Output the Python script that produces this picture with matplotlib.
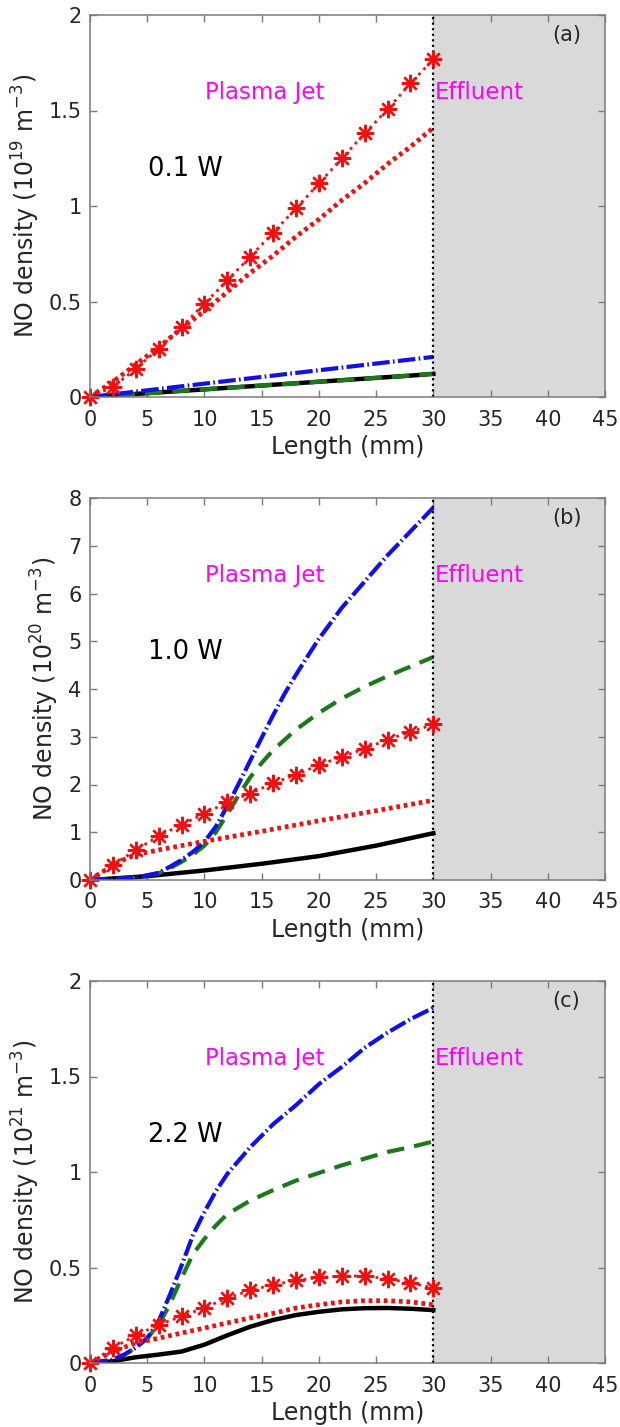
import numpy as np
import matplotlib
matplotlib.use("Agg")
import matplotlib.pyplot as plt

plt.rcParams['font.family'] = ['DejaVu Sans']
plt.rcParams['mathtext.default'] = 'regular'

# Axial positions (mm) of the marked series
x = [0, 2, 4, 6, 8, 10, 12, 14, 16, 18, 20, 22, 24, 26, 28, 30]

# ---- (a) 0.1 W, units of 1e19 m^-3
a_black = [0, 0.008, 0.016, 0.024, 0.032, 0.040, 0.048, 0.056, 0.064, 0.072, 0.080, 0.088, 0.096, 0.104, 0.112, 0.121]
a_green = [0, 0.008, 0.016, 0.024, 0.032, 0.040, 0.048, 0.056, 0.064, 0.072, 0.080, 0.088, 0.096, 0.104, 0.112, 0.122]
a_blue = [0, 0.014, 0.028, 0.042, 0.056, 0.070, 0.084, 0.098, 0.112, 0.126, 0.140, 0.154, 0.168, 0.182, 0.196, 0.210]
a_red = [0, 0.08, 0.17, 0.26, 0.36, 0.45, 0.55, 0.65, 0.74, 0.84, 0.93, 1.03, 1.12, 1.22, 1.31, 1.41]
a_star = [0, 0.052, 0.148, 0.253, 0.367, 0.489, 0.611, 0.734, 0.861, 0.987, 1.118, 1.249, 1.380, 1.506, 1.642, 1.768]

# ---- (b) 1.0 W, units of 1e20 m^-3
b_black_x = [0, 5, 10, 15, 20, 25, 30]
b_black = [0, 0.08, 0.20, 0.34, 0.50, 0.72, 0.98]
b_green_x = [0, 2, 4, 6, 7, 8, 9, 10, 11, 12, 13, 14, 15, 16, 18, 20, 22, 24, 26, 28, 30]
b_green = [0, 0.02, 0.05, 0.14, 0.25, 0.38, 0.53, 0.72, 1.00, 1.38, 1.78, 2.15, 2.45, 2.72, 3.15, 3.50, 3.80, 4.05, 4.27, 4.47, 4.67]
b_blue_x = [0, 2, 4, 6, 7, 8, 9, 10, 11, 12, 13, 14, 15, 16, 17, 18, 19, 20, 22, 24, 26, 28, 30]
b_blue = [0, 0.02, 0.05, 0.15, 0.28, 0.42, 0.59, 0.80, 1.12, 1.55, 2.02, 2.50, 2.98, 3.45, 3.90, 4.30, 4.68, 5.05, 5.70, 6.25, 6.80, 7.30, 7.80]
b_red_x = [0, 1, 2, 3, 4, 6, 8, 10, 15, 20, 25, 30]
b_red = [0, 0.16, 0.30, 0.43, 0.53, 0.63, 0.72, 0.81, 1.02, 1.24, 1.45, 1.67]
b_star = [0, 0.31, 0.63, 0.92, 1.16, 1.39, 1.63, 1.81, 2.03, 2.20, 2.41, 2.58, 2.75, 2.94, 3.10, 3.26]

# ---- (c) 2.2 W, units of 1e21 m^-3
c_black_x = [0, 2, 3, 4, 6, 8, 10, 12, 14, 16, 18, 20, 22, 24, 26, 28, 30]
c_black = [0, 0.009, 0.02, 0.03, 0.044, 0.06, 0.096, 0.145, 0.19, 0.225, 0.251, 0.268, 0.281, 0.287, 0.288, 0.284, 0.277]
c_green_x = [0, 2, 3, 4, 5, 6, 7, 8, 9, 10, 11, 12, 14, 16, 18, 20, 22, 24, 26, 28, 30]
c_green = [0, 0.017, 0.044, 0.08, 0.13, 0.20, 0.31, 0.445, 0.57, 0.65, 0.72, 0.78, 0.85, 0.905, 0.955, 0.995, 1.035, 1.07, 1.105, 1.13, 1.16]
c_blue_x = [0, 2, 3, 4, 5, 6, 7, 8, 9, 10, 11, 12, 14, 16, 18, 20, 22, 24, 26, 28, 30]
c_blue = [0, 0.017, 0.044, 0.08, 0.13, 0.22, 0.36, 0.51, 0.67, 0.79, 0.90, 0.99, 1.13, 1.25, 1.35, 1.46, 1.55, 1.65, 1.73, 1.80, 1.86]
c_red = [0, 0.06, 0.105, 0.13, 0.157, 0.183, 0.21, 0.236, 0.26, 0.288, 0.305, 0.32, 0.326, 0.326, 0.32, 0.305]
c_star = [0, 0.079, 0.145, 0.20, 0.244, 0.29, 0.34, 0.38, 0.41, 0.432, 0.448, 0.455, 0.456, 0.44, 0.42, 0.393]

panels = [
    dict(tag="(a)", power="0.1 W", exp=19, ymax=2.0,
         yticks=[0, 0.5, 1, 1.5, 2], ylabels=["0", "0.5", "1", "1.5", "2"],
         black=(x, a_black), green=(x, a_green), blue=(x, a_blue),
         red=(x, a_red), star=(x, a_star)),
    dict(tag="(b)", power="1.0 W", exp=20, ymax=8.0,
         yticks=list(range(0, 9)), ylabels=[str(v) for v in range(0, 9)],
         black=(b_black_x, b_black), green=(b_green_x, b_green),
         blue=(b_blue_x, b_blue), red=(b_red_x, b_red), star=(x, b_star)),
    dict(tag="(c)", power="2.2 W", exp=21, ymax=2.0,
         yticks=[0, 0.5, 1, 1.5, 2], ylabels=["0", "0.5", "1", "1.5", "2"],
         black=(c_black_x, c_black), green=(c_green_x, c_green),
         blue=(c_blue_x, c_blue), red=(x, c_red), star=(x, c_star)),
]

xticks = [0, 5, 10, 15, 20, 25, 30, 35, 40, 45]

W, H = 620, 1427
fig = plt.figure(figsize=(W / 100, H / 100), dpi=100)

ax_left, ax_w, ax_h = 90 / W, 515 / W, 382 / H
tops = [15, 498, 981]

spine_col = '#7a7a7a'
text_col = '#262626'

for top, p in zip(tops, panels):
    ax = fig.add_axes([ax_left, 1 - (top + 382) / H, ax_w, ax_h])
    ax.set_xlim(0, 45)
    ax.set_ylim(0, p["ymax"])

    # effluent region
    ax.axvspan(30, 45, color='#d9d9d9', zorder=0, lw=0)
    ax.axvline(30, color='black', ls=(0, (1, 1.5)), lw=1.6, zorder=6)

    bx, by = p["black"]
    ax.plot(bx, by, color='black', lw=3.2, zorder=2)
    gx, gy = p["green"]
    ax.plot(gx, gy, color='#1a7a1a', lw=3.0, ls=(0, (4.2, 2.4)), zorder=3)
    ux, uy = p["blue"]
    ax.plot(ux, uy, color='#1010e8', lw=3.0, ls=(0, (4.2, 0.8, 0.4, 0.8)), zorder=4)
    rx, ry = p["red"]
    ax.plot(rx, ry, color='#f01010', lw=3.4, ls=(0, (0.8, 0.8)), zorder=5)
    sx, sy = p["star"]
    ax.plot(sx, sy, color='#f01010', lw=2.0, ls=(0, (1, 1.6)),
            marker=(8, 2, 0), ms=12.5, mew=1.7, mec='#f01010', zorder=7,
            clip_on=False)

    ax.set_xticks(xticks)
    ax.set_xticklabels([str(v) for v in xticks])
    ax.set_yticks(p["yticks"])
    ax.set_yticklabels(p["ylabels"])
    ax.tick_params(direction='in', length=5, width=1, colors=spine_col,
                   labelcolor=text_col, labelsize=15, top=True, right=True)
    ax.tick_params(axis='x', pad=9)
    ax.tick_params(axis='y', pad=6)
    for s in ax.spines.values():
        s.set_color(spine_col)
        s.set_linewidth(1.1)
        s.set_zorder(8)

    ax.set_xlabel("Length (mm)", fontsize=17, color=text_col, labelpad=4)
    ax.set_ylabel("NO density (10$^{%d}$ m$^{-3}$)" % p["exp"], fontsize=17,
                  color=text_col, labelpad=5)

    ax.text(0.224, 0.797, "Plasma Jet", transform=ax.transAxes, color='#ff00ff',
            fontsize=16.5, va='center', ha='left')
    ax.text(0.670, 0.797, "Effluent", transform=ax.transAxes, color='#ff00ff',
            fontsize=16.5, va='center', ha='left')
    ax.text(0.113, 0.598, p["power"], transform=ax.transAxes, color='black',
            fontsize=18.5, va='center', ha='left')
    ax.text(0.898, 0.948, p["tag"], transform=ax.transAxes, color=text_col,
            fontsize=15, va='center', ha='left')

fig.savefig("out.png", dpi=100)
